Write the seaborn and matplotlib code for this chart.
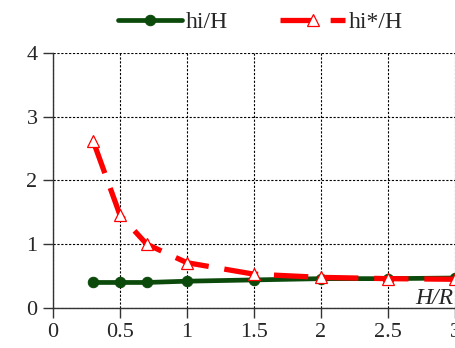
import matplotlib
matplotlib.use("Agg")
import matplotlib.pyplot as plt
import seaborn as sns
import pandas as pd

# Relative height ratios against H/R
hr = [0.3, 0.5, 0.7, 1.0, 1.5, 2.0, 2.5, 3.0]
hi_H = [0.40, 0.40, 0.40, 0.42, 0.44, 0.46, 0.46, 0.47]
hi_star_H = [2.62, 1.46, 1.00, 0.71, 0.53, 0.48, 0.46, 0.45]
series_names = ["hi/H", "hi*/H"]
x_ticks = [0, 0.5, 1, 1.5, 2, 2.5, 3]
x_tick_labels = ["0", "0.5", "1", "1.5", "2", "2.5", "3"]
y_ticks = [0, 1, 2, 3, 4]

sns.set_style("white")
plt.rcParams["font.family"] = ["Liberation Serif", "DejaVu Serif"]

fig = plt.figure(figsize=(4.56, 3.48), dpi=100)
ax = fig.add_axes([0.116, 0.115, 0.882, 0.733])

df1 = pd.DataFrame({"x": hr, "y": hi_H})
df2 = pd.DataFrame({"x": hr, "y": hi_star_H})

sns.lineplot(data=df1, x="x", y="y", ax=ax, color="#0b4a0b", lw=3.4,
             marker="o", markersize=7.5, markeredgecolor="#0b4a0b",
             label=series_names[0], zorder=3)
sns.lineplot(data=df2, x="x", y="y", ax=ax, color="#ff0000", lw=3.8,
             dashes=(6.5, 3.0), marker="^", markersize=8.5,
             markerfacecolor="white", markeredgecolor="#ff0000",
             markeredgewidth=0.9, label=series_names[1], zorder=4)

ax.set_xlim(0, 3)
ax.set_ylim(0, 4)
ax.set_xticks(x_ticks)
ax.set_xticklabels(x_tick_labels)
ax.set_yticks(y_ticks)
ax.set_xlabel("")
ax.set_ylabel("")
ax.grid(True, color="black", linestyle=(0, (2, 1.5)), linewidth=0.8)
for s in ["top", "right"]:
    ax.spines[s].set_visible(False)
for s in ["left", "bottom"]:
    ax.spines[s].set_color("#333333")
    ax.spines[s].set_linewidth(1.0)
ax.tick_params(axis="both", which="both", direction="out", length=7,
               width=1.0, color="#333333", labelsize=16, pad=4,
               left=True, bottom=True)

ax.text(2.99, 0.07, "H/R", style="italic", fontsize=17, ha="right",
        va="baseline")

ax.legend(loc="lower center", bbox_to_anchor=(0.515, 1.03), ncol=2,
          frameon=False, fontsize=17, handlelength=2.75, columnspacing=2.2,
          borderaxespad=0.1, handletextpad=0.15)

fig.savefig("out.png", dpi=100)
